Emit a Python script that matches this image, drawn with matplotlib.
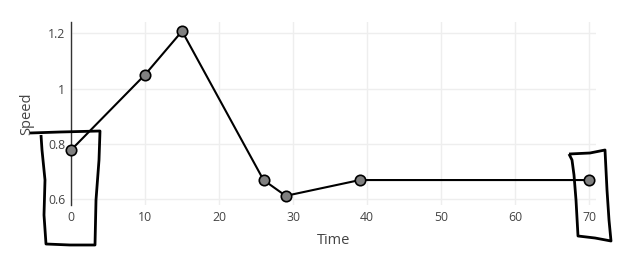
import matplotlib.pyplot as plt
from matplotlib.path import Path
from matplotlib.patches import PathPatch

plt.rcParams["font.family"] = ["Open Sans", "DejaVu Sans"]

# data
time = [0, 10, 15, 26, 29, 39, 70]
speed = [0.778, 1.05, 1.207, 0.67, 0.613, 0.67, 0.67]
x_ticks = [0, 10, 20, 30, 40, 50, 60, 70]
y_ticks = [0.6, 0.8, 1.0, 1.2]
y_labels = ["0.6", "0.8", "1", "1.2"]

# hand-drawn boxes over the chart, in figure pixels (top-left origin)
left_box = [(30, 133), (60, 132), (100, 131), (99, 160), (96, 200), (95, 245),
            (70, 245), (46, 244), (44, 215), (45, 180), (42, 150), (41, 135)]
right_box = [(569, 154), (590, 153), (605, 150), (607, 190), (609, 220), (611, 241),
             (595, 238), (578, 236), (576, 200), (574, 175), (572, 160), (569, 154)]

W, H = 626, 271
fig = plt.figure(figsize=(W / 100, H / 100), dpi=100)
ax = fig.add_axes([71 / W, 66 / H, (596 - 71) / W, (205 - 22) / H])

ax.plot(time, speed, color="black", lw=1.5, marker="o", ms=7.5,
        mfc="#808080", mec="black", mew=1.2, zorder=3, clip_on=False)

ax.set_xlim(0, 70.9)
ax.set_ylim(0.58, 1.24)
ax.set_xticks(x_ticks)
ax.set_yticks(y_ticks)
ax.set_yticklabels(y_labels)
ax.grid(color="#eeeeee", lw=1)
ax.set_axisbelow(True)
for s in ["top", "right", "bottom"]:
    ax.spines[s].set_visible(False)
ax.spines["left"].set_color("#333333")
ax.spines["left"].set_linewidth(1)
ax.tick_params(length=0, labelsize=8.8, labelcolor="#444444", pad=4)
ax.set_xlabel("Time", fontsize=10.5, color="#444444", labelpad=7)
ax.set_ylabel("Speed", fontsize=10.5, color="#444444")
ax.yaxis.set_label_coords(-0.07, 0.5)

for box in (left_box, right_box):
    verts = [(x / W, 1 - y / H) for x, y in box]
    codes = [Path.MOVETO] + [Path.LINETO] * (len(verts) - 1)
    fig.patches.append(PathPatch(Path(verts, codes), transform=fig.transFigure,
                                 fill=False, ec="black", lw=2, joinstyle="round"))

fig.savefig("out.png", dpi=100)
